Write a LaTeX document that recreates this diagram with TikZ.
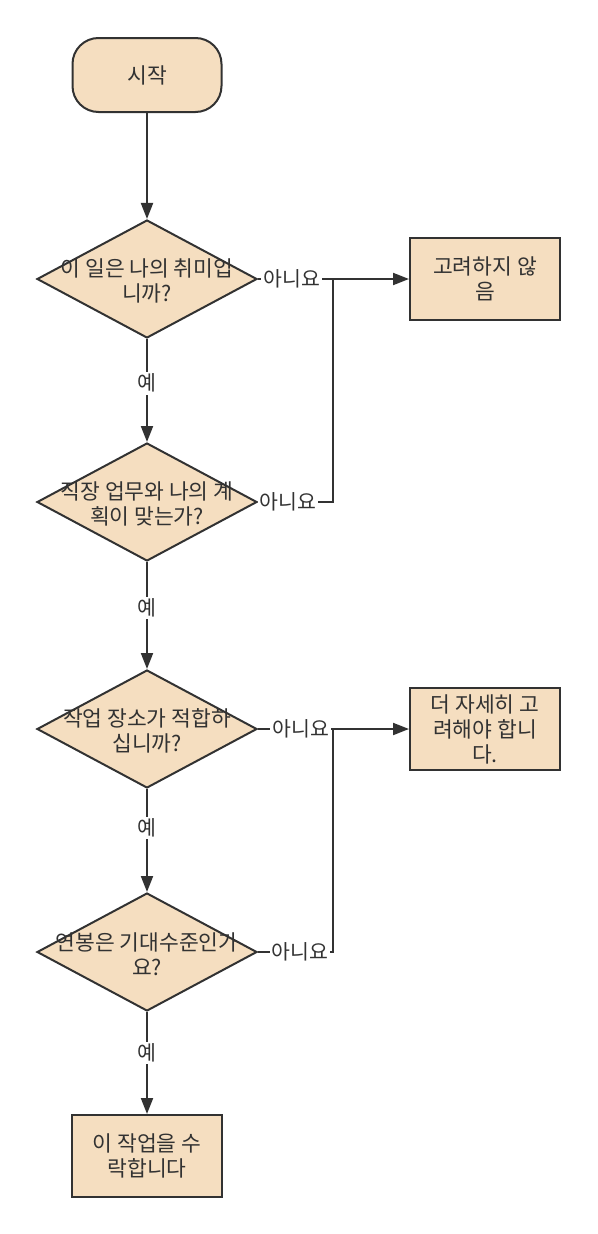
\documentclass[tikz,border=0pt]{standalone}
\usepackage{fontspec}
\setmainfont{Noto Sans CJK KR}
\usetikzlibrary{arrows.meta,shapes.geometric,positioning}
\definecolor{boxfill}{HTML}{F5DEC0}
\definecolor{linegray}{HTML}{323232}
\tikzset{
  startstop/.style={rectangle,rounded corners=26pt,draw=linegray,fill=boxfill,line width=2pt,minimum width=149pt,minimum height=74pt},
  decision/.style={diamond,draw=linegray,fill=boxfill,line width=2pt,minimum width=220pt,minimum height=118pt,inner sep=0pt},
  process/.style={rectangle,draw=linegray,fill=boxfill,line width=2pt,minimum width=150pt,minimum height=82pt},
  txt/.style={align=center,font=\fontsize{21.5}{25}\selectfont,text=linegray},
  flow/.style={draw=linegray,line width=2pt,-{Triangle[length=16pt,width=12pt]}},
  link/.style={draw=linegray,line width=2pt},
  lbl/.style={fill=white,inner sep=2pt,font=\fontsize{20.5}{22}\selectfont,text=linegray}
}
\begin{document}
\begin{tikzpicture}[x=1pt,y=-1pt]
\useasboundingbox (0,0) rectangle (597,1234);

\node[startstop,txt] (start) at (147,75) {시작};

\node[decision] (q1) at (147,279) {};
\node[txt] (q1t) at (147,281) {이 일은 나의 취미입\\니까?};
\node[decision] (q2) at (147,502) {};
\node[txt] (q2t) at (147,504) {직장 업무와 나의 계\\획이 맞는가?};
\node[decision] (q3) at (147,729) {};
\node[txt] (q3t) at (147,731) {작업 장소가 적합하\\십니까?};
\node[decision] (q4) at (147,952) {};
\node[txt] (q4t) at (147,954) {연봉은 기대수준인가\\요?};

\node[process,txt] (done) at (147,1156) {이 작업을 수\\락합니다};
\node[process,txt] (drop) at (485,279) {고려하지 않\\음};
\node[process,txt] (think) at (485,729) {더 자세히 고\\려해야 합니\\다.};

\coordinate (j1) at (333,279);
\coordinate (j2) at (333,729);

\draw[flow] (start) -- (q1);
\draw[flow] (q1) -- node[lbl,pos=0.43] (y1) {예} (q2);
\draw[flow] (q2) -- node[lbl,pos=0.43] (y2) {예} (q3);
\draw[flow] (q3) -- node[lbl,pos=0.38] (y3) {예} (q4);
\draw[flow] (q4) -- node[lbl,pos=0.40] (y4) {예} (done);

\draw[flow] (q1.east) -- node[lbl,pos=0.45] (n1) {아니요} (j1) -- (drop.west);
\draw[link] (q2.east) -| node[lbl,pos=0.2] (n2) {아니요} (j1);
\draw[flow] (q3.east) -- node[lbl,pos=0.57] (n3) {아니요} (j2) -- (think.west);
\draw[link] (q4.east) -| node[lbl,pos=0.28] (n4) {아니요} (j2);
\end{tikzpicture}
\end{document}
